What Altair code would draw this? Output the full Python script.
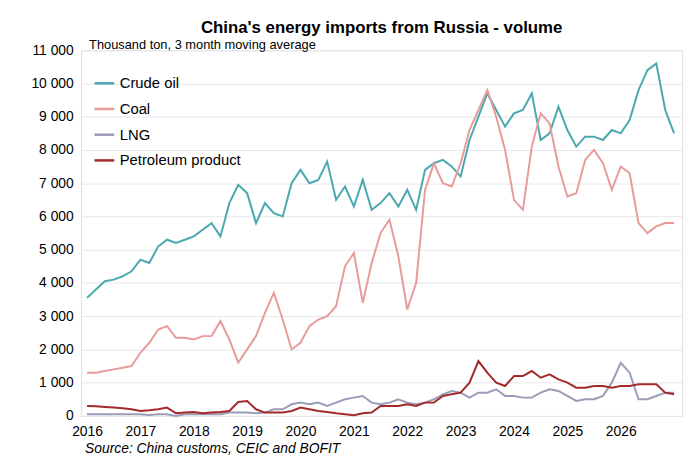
import pandas as pd
import altair as alt

# two-month steps starting Jan 2016
t = [2016 + k / 6 for k in range(67)]

crude = [3550, 3800, 4050, 4100, 4200, 4350, 4700, 4600, 5100, 5300, 5200, 5300,
         5400, 5600, 5800, 5400, 6400, 6950, 6700, 5800, 6400, 6100, 6000, 7000,
         7400, 7000, 7100, 7650, 6500, 6900, 6300, 7100, 6200, 6400, 6700, 6300,
         6800, 6200, 7400, 7600, 7700, 7500, 7200, 8300, 9000, 9700, 9200, 8700,
         9100, 9200, 9700, 8300, 8500, 9300, 8600, 8100, 8400, 8400, 8300, 8600,
         8500, 8900, 9800, 10400, 10600, 9200, 8500]
coal = [1300, 1300, 1350, 1400, 1450, 1500, 1900, 2200, 2600, 2700, 2350, 2350,
        2300, 2400, 2400, 2850, 2300, 1600, 2000, 2400, 3100, 3700, 2900, 2000,
        2200, 2700, 2900, 3000, 3300, 4500, 4900, 3400, 4600, 5500, 5900, 4800,
        3200, 4000, 6800, 7600, 7000, 6900, 7600, 8600, 9200, 9800, 9000, 8000,
        6500, 6200, 8100, 9100, 8800, 7500, 6600, 6700, 7700, 8000, 7600, 6800,
        7500, 7300, 5800, 5500, 5700, 5800, 5800]
lng = [50, 50, 50, 50, 50, 50, 50, 30, 50, 50, 0, 50,
       50, 50, 50, 50, 100, 100, 100, 80, 100, 200, 200, 350,
       400, 350, 400, 300, 400, 500, 550, 600, 400, 350, 400, 500,
       400, 350, 400, 500, 650, 750, 700, 550, 700, 700, 800, 600,
       600, 550, 550, 700, 800, 750, 600, 450, 500, 500, 600, 1000,
       1600, 1300, 500, 500, 600, 700, 700]
petroleum = [300, 290, 270, 250, 230, 200, 150, 170, 200, 250, 80, 100,
             120, 80, 100, 120, 150, 420, 450, 200, 100, 100, 100, 150,
             250, 200, 150, 120, 80, 50, 20, 80, 100, 300, 300, 300,
             350, 300, 400, 400, 600, 650, 700, 1000, 1650, 1300, 1000, 900,
             1200, 1200, 1350, 1150, 1250, 1100, 1000, 850, 850, 900, 900, 850,
             900, 900, 950, 950, 950, 700, 650]

series = ["Crude oil", "Coal", "LNG", "Petroleum product"]
colors = ["#4aa8b0", "#e89b9b", "#9a9cb8", "#a32a2a"]
years = list(range(2016, 2027))

rows = []
for name, vals in zip(series, [crude, coal, lng, petroleum]):
    for ti, v in zip(t, vals):
        rows.append({"t": ti, "value": v, "series": name})
df = pd.DataFrame(rows)

lines = alt.Chart(df).mark_line(strokeWidth=2).encode(
    x=alt.X("t:Q", title=None, scale=alt.Scale(domain=[2015.89, 2027.15], nice=False),
            axis=alt.Axis(values=years, format="d", labelFontSize=14, labelColor="black",
                          grid=False, ticks=False, domain=False, labelPadding=9)),
    y=alt.Y("value:Q", title=None, scale=alt.Scale(domain=[0, 11000], nice=False),
            axis=alt.Axis(values=list(range(0, 11001, 1000)), labelFontSize=14,
                          labelColor="black", ticks=False, domain=False, gridColor="#e6e6ee",
                          labelPadding=8,
                          labelExpr="replace(format(datum.value, ','), ',', ' ')")),
    color=alt.Color("series:N", scale=alt.Scale(domain=series, range=colors), sort=series,
                    legend=alt.Legend(title=None, orient="none", legendX=12, legendY=22,
                                      symbolType="stroke", symbolStrokeWidth=2.5,
                                      symbolSize=400, labelFontSize=15, rowPadding=6,
                                      labelColor="black")),
)

note = alt.Chart(pd.DataFrame({"s": ["Thousand ton, 3 month moving average"]})).mark_text(
    align="left", baseline="bottom", fontSize=13, font="Liberation Sans"
).encode(x=alt.value(8), y=alt.value(2), text="s:N")

source = alt.Chart(pd.DataFrame({"s": ["Source: China customs, CEIC and BOFIT"]})).mark_text(
    align="left", fontSize=14, fontStyle="italic", font="Liberation Sans"
).encode(x=alt.value(4), y=alt.value(404), text="s:N")

chart = (lines + note + source).properties(
    width=608, height=370,
    autosize=alt.AutoSizeParams(type="none"),
    padding={"left": 74, "top": 40, "right": 10, "bottom": 50},
    title=alt.TitleParams("China's energy imports from Russia - volume", fontSize=17,
                          fontWeight="bold", font="Liberation Sans", anchor="middle", dy=2),
).configure_view(stroke="#888888").configure(font="Liberation Sans")

chart.save("out.html", embed_options={"renderer": "svg", "actions": False})
